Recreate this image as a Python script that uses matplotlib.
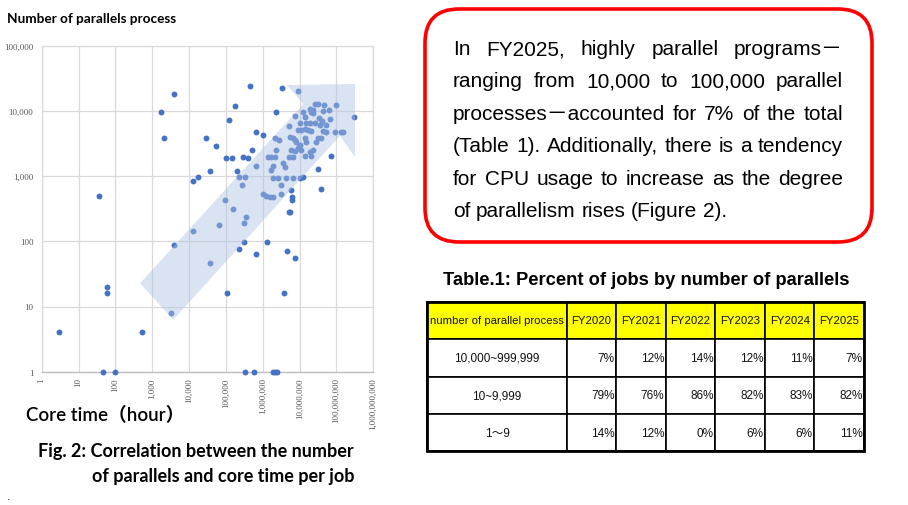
import matplotlib
matplotlib.use("Agg")
import matplotlib.pyplot as plt
from matplotlib.patches import Polygon, FancyBboxPatch, Rectangle
from matplotlib.ticker import FixedLocator, FuncFormatter, NullLocator

# scatter data (core time in hours, number of parallel processes)
core_time = [
    36, 1760, 2040, 3980, 28650, 52500, 12500, 13000, 17800, 36000,
    64600, 93800, 1.0e5, 1.45e5, 1.23e5, 1.79e5, 4.57e5, 2.95e5, 3.88e5, 4.97e5,
    2.03e5, 2.3e5, 3.27e5, 2.72e5, 1.58e5, 3.48e5, 3.0e5, 6.51e5, 6.5e5, 1.03e6,
    2.27e6, 3.24e6, 8.8e6, 5.0e6, 7.6e6, 3.0e8, 7.0e7, 3.25e7, 3.9e7, 1.0e8,
    4.5e7, 6.3e7, 9.1e7, 1.3e8, 1.55e8, 6.6e7, 5.65e6, 5.3e6, 6.3e6, 6.4e6,
    5.8e6, 1.26e7, 1.2e6, 1.6e6,
    2.55e7, 3.14e7, 1.87e7, 2.3e7, 1.23e7, 2.07e7, 2.3e7, 4.3e7, 1.43e7, 3.34e7,
    4.1e7, 1.0e7, 1.51e7, 1.87e7, 2.55e7, 3.48e7, 5.28e7, 9.0e6, 1.11e7, 1.37e7,
    1.68e7, 2.07e7, 4.3e7, 5.28e7, 2.1e6, 2.75e6, 5.36e6, 6.6e6, 7.3e6, 1.37e7,
    3.14e7, 3.87e7, 8.1e6, 2.83e7, 1.51e7, 2.24e6, 5.95e6, 7.3e6, 1.11e7, 1.0e7,
    2.3e7, 1.87e7, 9.0e6, 1.38e6, 1.7e6, 2.1e6, 5.1e6, 6.6e6, 1.37e7, 2.07e7,
    1.89e6, 3.53e6, 3.92e6, 1.7e6, 1.89e6, 2.58e6, 4.35e6, 6.6e6, 1.0e7, 3.18e6,
    1.01e6, 1.89e6, 3.18e6,
    3800, 36000, 2.25e5, 3.08e5, 6.65e5, 1.32e6, 4.6e6, 7.6e6, 58, 60,
    1.04e5, 3.66e6, 3290, 3, 525, 47, 100, 3.21e5, 5.75e5, 1.9e6,
    2.2e6, 2.4e6,
]
processes = [
    500, 9500, 3840, 18400, 3840, 2860, 142, 850, 955, 1180,
    180, 430, 1915, 1915, 7160, 12000, 24000, 1980, 1915, 2480,
    1180, 955, 955, 720, 309, 235, 188, 4740, 1426, 4270,
    9500, 22700, 20200, 5930, 8340, 7940, 2030, 1280, 634, 12300,
    12300, 10300, 4740, 4740, 4740, 7500, 278, 278, 430, 472,
    611, 955, 500, 480,
    12650, 12800, 10700, 10350, 9540, 9540, 9200, 10000, 8190, 7730,
    7030, 6470, 6470, 6620, 6470, 6100, 6100, 5120, 5120, 5300,
    5120, 4930, 4930, 4820, 3900, 3590, 4040, 3810, 3590, 3900,
    3810, 3900, 3390, 3390, 3390, 2520, 2520, 2440, 2520, 3010,
    2520, 2380, 2670, 1950, 1950, 1950, 1950, 1950, 2040, 2040,
    1450, 1575, 1400, 1245, 950, 950, 950, 950, 950, 733,
    527, 480, 527,
    89, 47, 75, 99, 64, 99, 70, 55, 20, 16,
    16, 16, 8, 4, 4, 1, 1, 1, 1, 1,
    1, 1,
]
x_ticks = [1, 10, 100, 1e3, 1e4, 1e5, 1e6, 1e7, 1e8, 1e9]
y_ticks = [1, 10, 100, 1e3, 1e4, 1e5]

box_lines = [
    "In FY2025, highly parallel programs\uff0d",
    "ranging from 10,000 to 100,000 parallel",
    "processes\uff0daccounted for 7% of the total",
    "(Table 1). Additionally, there is a tendency",
    "for CPU usage to increase as the degree",
    "of parallelism rises (Figure 2).",
]

col_labels = ["number of parallel process", "FY2020", "FY2021", "FY2022",
              "FY2023", "FY2024", "FY2025"]
row_labels = ["10,000~999,999", "10~9,999", "1\uff5e9"]
share_high = [7, 12, 14, 12, 11, 7]
share_mid = [79, 76, 86, 82, 83, 82]
share_low = [14, 12, 0, 6, 6, 11]

W, H = 908, 506
fig = plt.figure(figsize=(W / 100, H / 100), dpi=100)
fig.patch.set_facecolor("white")

# ---- left: scatter --------------------------------------------------------
ax = fig.add_axes([41.7 / W, 1 - 372.7 / H, 331.6 / W, 326 / H])
ax.set_xscale("log")
ax.set_yscale("log")
ax.set_xlim(1, 1e9)
ax.set_ylim(1, 1e5)
ax.xaxis.set_major_locator(FixedLocator(x_ticks))
ax.yaxis.set_major_locator(FixedLocator(y_ticks))
ax.xaxis.set_minor_locator(NullLocator())
ax.yaxis.set_minor_locator(NullLocator())
fmt = FuncFormatter(lambda v, p: f"{int(round(v)):,}")
ax.xaxis.set_major_formatter(fmt)
ax.yaxis.set_major_formatter(fmt)
ax.grid(True, color="#d9d9d9", lw=0.9)
ax.set_axisbelow(True)
for s in ["top", "left", "right"]:
    ax.spines[s].set_color("#d9d9d9")
    ax.spines[s].set_linewidth(0.9)
ax.spines["bottom"].set_color("#bfbfbf")
ax.spines["bottom"].set_linewidth(1.0)
ax.tick_params(length=0, labelsize=6.5, labelcolor="#595959")
ax.tick_params(axis="x", labelrotation=90, pad=4)
ax.tick_params(axis="y", pad=6)
for lab in ax.get_xticklabels() + ax.get_yticklabels():
    lab.set_family("Liberation Serif")

ax.scatter(core_time, processes, s=18, color="#4472c4", lw=0, zorder=3,
           clip_on=False)

# big translucent trend arrow (axes fraction)
arrow_pts = [(0.2964, 0.2712), (0.789, 0.8212), (0.7389, 0.8794),
             (0.9448, 0.8825), (0.9448, 0.6577), (0.8996, 0.7239),
             (0.3969, 0.1595)]
ax.add_patch(Polygon(arrow_pts, closed=True, transform=ax.transAxes,
                     facecolor="#adc1e2", alpha=0.45, lw=0, zorder=4))

fig.text(7 / W, 1 - 19 / H, "Number of parallels process", family="Lato",
         weight="bold", fontsize=9.8, va="center", ha="left")
fig.text(26 / W, 1 - 415 / H, "Core time\uff08hour\uff09",
         family=["Lato", "Noto Sans CJK JP"], fontsize=13.5, va="center",
         ha="left", weight="semibold")
caption = ["Fig. 2: Correlation between the number",
           "of parallels and core time per job"]
for i, cap in enumerate(caption):
    fig.text(354 / W, 1 - (452 + 25 * i) / H, cap, family="Lato",
             weight="bold", fontsize=13, ha="right", va="center")
fig.text(7 / W, 1 - 497 / H, ".", fontsize=8, ha="left", va="center")

# ---- right: text box ------------------------------------------------------
box = FancyBboxPatch((4.25, 2.63), 4.47, 2.33,
                     boxstyle="round,pad=0,rounding_size=0.34",
                     transform=fig.dpi_scale_trans, facecolor="white",
                     edgecolor="#ff0000", lw=2.6)
fig.patches.append(box)

box_font = ["Liberation Sans", "Noto Sans CJK JP"]
renderer = fig.canvas.get_renderer()
x_left, x_right = 453 / W, 843 / W
for i, line in enumerate(box_lines):
    y = 1 - (55 + 32.4 * i) / H
    words = line.split(" ")
    texts = [fig.text(0, y, w, family=box_font, fontsize=15, va="baseline",
                      ha="left") for w in words]
    widths = [t.get_window_extent(renderer).width / W for t in texts]
    if i == len(box_lines) - 1:
        gap_w = 15 * 0.278 * 100 / 72 / W
    else:
        gap_w = (x_right - x_left - sum(widths)) / (len(words) - 1)
    x = x_left
    for t, w in zip(texts, widths):
        t.set_x(x)
        x += w + gap_w

# ---- right: table ---------------------------------------------------------
fig.text(646.5 / W, 1 - 285 / H,
         "Table.1: Percent of jobs by number of parallels",
         family="Liberation Sans", weight="bold", fontsize=13.2,
         ha="center", va="baseline")

tax = fig.add_axes([427.3 / W, 1 - 452.3 / H, 437 / W, 149.6 / H])
tax.axis("off")
rows = [share_high, share_mid, share_low]
cell_text = [[lab] + [f"{v}%" for v in vals] for lab, vals in zip(row_labels, rows)]
col_w = [139.4, 49.6, 49.4, 49.6, 49.7, 49.3, 50.0]
tbl = tax.table(cellText=cell_text, colLabels=col_labels,
                colWidths=[c / sum(col_w) for c in col_w],
                bbox=[0, 0, 1, 1], cellLoc="center")
tbl.auto_set_font_size(False)
cell_font = ["Liberation Sans", "Noto Sans CJK JP"]
for (r, c), cell in tbl.get_celld().items():
    cell.set_linewidth(1.2)
    cell.set_edgecolor("black")
    txt = cell.get_text()
    txt.set_family(cell_font)
    txt.set_color("#111111")
    if r == 0:
        cell.set_facecolor("#ffff00")
        txt.set_fontsize(8.2)
    else:
        cell.set_facecolor("white")
        if c == 0:
            txt.set_fontsize(8.5)
        else:
            txt.set_fontsize(8.5)
            txt.set_ha("right")
            cell.PAD = 0.03
tax.add_patch(Rectangle((0, 0), 1, 1, transform=tax.transAxes, fill=False,
                        lw=2.0, edgecolor="black", clip_on=False, zorder=5))

fig.savefig("out.png", dpi=100, facecolor="white")
